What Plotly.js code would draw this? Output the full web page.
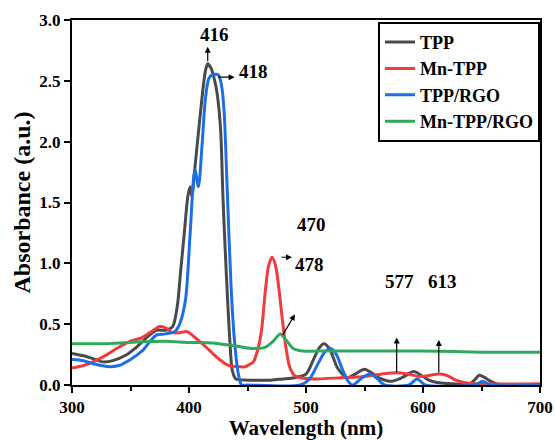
<!DOCTYPE html>
<html><head><meta charset="utf-8">
<script src="https://cdn.plot.ly/plotly-3.0.1.min.js"></script>
<style>html,body{margin:0;padding:0;background:#fff}</style>
</head><body><div id="chart" style="width:555px;height:440px"></div>
<script>
const seriesNames = ['TPP', 'Mn-TPP', 'TPP/RGO', 'Mn-TPP/RGO'];

const tppX = [300,310,320,326,335,345,355,365,372,380,386,390,393,396,399,401,402.5,405,408,411,414,416,419,422,424,427,429,431,433,435,437,440,450,460,470,480,490,500,506,511,515,520,527,535,542,550,556,562,572,582,592,600,605,612,625,640,644,648,653,658,665,680,700];
const tppY = [0.26,0.24,0.21,0.19,0.20,0.24,0.31,0.40,0.45,0.45,0.48,0.65,0.95,1.25,1.55,1.63,1.55,1.78,2.07,2.35,2.58,2.64,2.60,2.50,2.40,2.10,1.55,1.10,0.70,0.35,0.12,0.05,0.04,0.04,0.04,0.05,0.06,0.09,0.20,0.30,0.34,0.30,0.14,0.06,0.09,0.13,0.10,0.06,0.03,0.06,0.11,0.07,0.04,0.02,0.01,0.01,0.04,0.08,0.06,0.03,0.005,0.005,0.005];

const mnX = [300,310,318,330,340,350,360,368,375,380,386,392,398,404,410,418,426,434,443,448,452,455,459,462,465,468,471,474,477,480,483,486,490,495,510,530,550,565,577,587,597,606,613,620,628,635,645,700];
const mnY = [0.14,0.16,0.19,0.25,0.31,0.36,0.39,0.44,0.48,0.47,0.43,0.43,0.44,0.40,0.35,0.28,0.21,0.16,0.15,0.15,0.17,0.19,0.30,0.45,0.75,0.98,1.05,0.98,0.78,0.52,0.30,0.15,0.08,0.06,0.05,0.06,0.07,0.09,0.10,0.09,0.07,0.08,0.09,0.08,0.04,0.02,0.01,0.01];

const rgoX = [300,310,320,332,340,350,360,372,380,388,392,397,401,405,408,411,414,417,420,425,428,430,433,436,439,442,445,450,495,503,510,516,521,526,531,536,540,548,555,561,567,588,595,602,644,651,658,700];
const rgoY = [0.21,0.20,0.17,0.15,0.16,0.21,0.28,0.41,0.42,0.44,0.50,0.70,1.25,1.77,1.63,1.95,2.35,2.52,2.55,2.55,2.45,2.25,1.52,0.80,0.35,0.10,0.0,0.0,0.0,0.05,0.17,0.27,0.30,0.25,0.13,0.03,0.0,0.06,0.09,0.05,0.0,0.0,0.05,0.0,0.0,0.03,0.0,0.0];

const mnRgoX = [300,330,360,380,400,420,440,455,465,472,478,483,489,497,520,560,600,650,700];
const mnRgoY = [0.34,0.34,0.355,0.36,0.35,0.345,0.32,0.30,0.31,0.36,0.42,0.37,0.30,0.28,0.28,0.28,0.28,0.27,0.27];

const peakLabels = ['416', '418', '470', '478', '577', '613'];

const colors = ['#4a4a4a', '#ee3b3b', '#1c6fe3', '#2fa95c'];
const xs = [tppX, mnX, rgoX, mnRgoX];
const ys = [tppY, mnY, rgoY, mnRgoY];

const serif = 'Liberation Serif, Times New Roman, serif';
const traces = seriesNames.map((n, i) => ({
  x: xs[i], y: ys[i], name: n, type: 'scatter', mode: 'lines',
  line: {color: colors[i], width: 3, shape: 'spline', smoothing: 0.8}
}));

const lblFont = {family: serif, size: 19, color: '#000', weight: 'bold'};
const arrow = (x, y, ax, ay) => ({x, y, xref: 'x', yref: 'y', text: '', showarrow: true,
  arrowhead: 2, arrowsize: 1, arrowwidth: 1.2, arrowcolor: '#000', ax, ay, axref: 'pixel', ayref: 'pixel'});
const label = (t, x, y) => ({x, y, xref: 'x', yref: 'y', text: t, showarrow: false, font: lblFont});

const annotations = [
  label(peakLabels[0], 422, 2.88), arrow(416, 2.78, 0, 16),
  label(peakLabels[1], 455, 2.58), arrow(439, 2.53, -18, 0),
  label(peakLabels[2], 505, 1.32),
  label(peakLabels[3], 503, 0.99), arrow(488, 1.05, -12, 0),
  arrow(490.5, 0.58, -13, 22),
  label(peakLabels[4], 580, 0.85), arrow(577.5, 0.39, 0, 36),
  label(peakLabels[5], 617, 0.85), arrow(613.5, 0.37, 0, 34)
];

const layout = {
  width: 555, height: 440,
  margin: {l: 72, r: 15, t: 20, b: 55},
  paper_bgcolor: '#fff', plot_bgcolor: '#fff',
  font: {family: serif, color: '#000'},
  showlegend: true,
  legend: {x: 1, y: 0.995, xanchor: 'right', yanchor: 'top', bgcolor: '#fff',
    bordercolor: '#000', borderwidth: 2, font: {family: serif, size: 18, color: '#000', weight: 'bold'},
    tracegroupgap: 0, itemwidth: 30},
  xaxis: {range: [300, 700], dtick: 100, tick0: 300, showgrid: false, zeroline: false,
    showline: true, linecolor: '#000', linewidth: 2, mirror: true,
    ticks: 'outside', ticklen: 6, tickwidth: 2, tickcolor: '#000',
    minor: {dtick: 50, ticks: 'outside', ticklen: 4, tickwidth: 2, tickcolor: '#000'},
    tickfont: {family: serif, size: 17, color: '#000', weight: 'bold'},
    title: {text: 'Wavelength (nm)', font: {family: serif, size: 21, color: '#000', weight: 'bold'}, standoff: 4}},
  yaxis: {range: [0, 3], dtick: 0.5, tickformat: '.1f', showgrid: false, zeroline: false,
    showline: true, linecolor: '#000', linewidth: 2, mirror: true,
    ticks: 'outside', ticklen: 6, tickwidth: 2, tickcolor: '#000',
    tickfont: {family: serif, size: 17, color: '#000', weight: 'bold'},
    title: {text: 'Absorbance (a.u.)', font: {family: serif, size: 24, color: '#000', weight: 'bold'}, standoff: 2}},
  annotations
};

Plotly.newPlot('chart', traces, layout, {displayModeBar: false, staticPlot: true});
</script></body></html>
